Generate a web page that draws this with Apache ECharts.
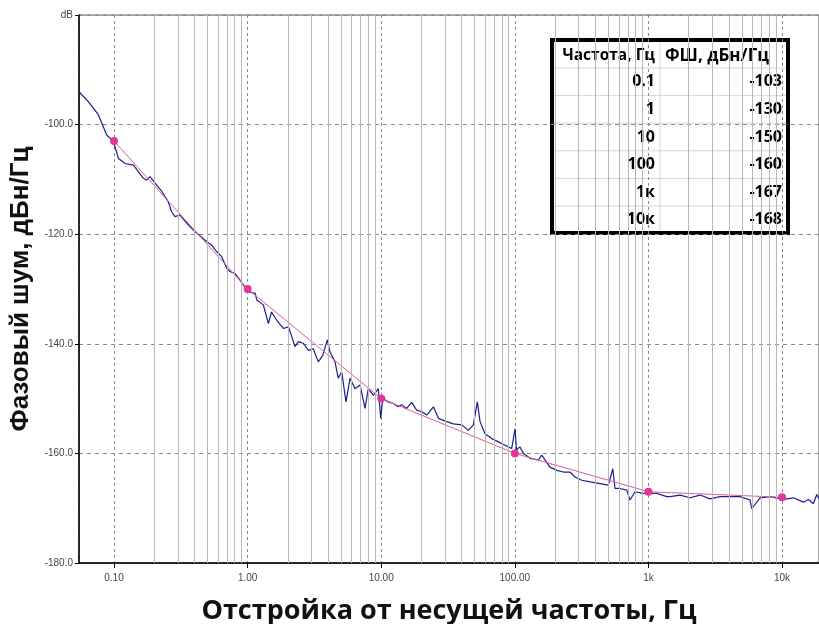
<!DOCTYPE html>
<html>
<head>
<meta charset="utf-8">
<script src="https://cdn.jsdelivr.net/npm/echarts@6/dist/echarts.min.js"></script>
<style>
  html, body { margin: 0; padding: 0; background: #fff; }
  #chart { width: 819px; height: 624px; }
</style>
</head>
<body>
<div id="chart"></div>
<script>
// измеренный спектр фазового шума (частота, Гц / уровень, дБн/Гц)
var traceFreq = [
  0.0547, 0.0642, 0.0763, 0.0882, 0.0961, 0.100, 0.108, 0.121, 0.140, 0.152,
  0.166, 0.176, 0.186, 0.203, 0.228, 0.255, 0.270, 0.286, 0.312, 0.350,
  0.404, 0.480, 0.539, 0.587, 0.640, 0.698, 0.738, 0.805, 0.877, 1.01,
  1.14, 1.17, 1.31, 1.43, 1.51, 1.65, 1.85, 2.02, 2.14, 2.26,
  2.40, 2.61, 2.85, 3.10, 3.38, 3.65, 3.95, 4.14, 4.51, 4.77,
  5.06, 5.45, 5.84, 6.37, 6.94, 7.56, 8.00, 8.73, 9.51, 9.91,
  10.26, 11.3, 12.3, 13.4, 14.2, 15.5, 16.9, 18.4, 20.1, 21.9,
  24.6, 26.8, 30.9, 34.7, 40.1, 44.9, 48.9, 52.4, 54.9, 59.8,
  67.1, 75.3, 84.5, 94.8, 100.3, 103, 109, 116, 130, 150,
  159, 183, 206, 231, 259, 282, 317, 366, 434, 501,
  541, 562, 613, 688, 728, 794, 916, 998, 1153, 1371,
  1452, 1725, 2048, 2433, 2891, 3436, 4083, 4852, 5754, 5929,
  6841, 8128, 10230, 12160, 14420, 15740, 17140, 18200, 18900
];
var traceLevel = [
  -94.0, -95.8, -98.2, -101.9, -102.8, -103.4, -106.2, -107.1, -107.4, -108.6,
  -109.8, -110.1, -109.5, -110.7, -112.2, -114.1, -115.9, -116.8, -116.5, -118.0,
  -119.5, -121.1, -122.0, -123.2, -124.1, -126.2, -126.8, -127.2, -128.4, -130.5,
  -130.8, -132.0, -132.9, -136.3, -134.2, -135.7, -137.2, -136.9, -138.7, -140.5,
  -139.6, -139.9, -141.2, -140.9, -143.3, -142.1, -139.3, -141.5, -143.3, -146.3,
  -145.1, -150.6, -146.3, -148.2, -147.5, -151.8, -148.2, -149.4, -148.2, -153.6,
  -150.0, -150.6, -150.9, -151.5, -151.1, -151.8, -150.7, -152.1, -152.4, -153.0,
  -151.5, -153.6, -154.2, -154.6, -154.8, -155.8, -154.8, -150.6, -154.2, -156.4,
  -157.3, -157.9, -158.5, -159.1, -155.5, -159.4, -158.8, -160.0, -160.9, -161.2,
  -160.3, -162.5, -163.1, -163.4, -163.4, -164.3, -164.9, -165.2, -165.5, -165.8,
  -162.8, -166.4, -166.4, -166.7, -168.5, -167.0, -167.3, -167.3, -167.3, -167.9,
  -167.9, -167.6, -168.1, -167.6, -168.3, -167.9, -167.9, -167.9, -168.5, -170.1,
  -168.1, -167.9, -168.4, -168.1, -168.9, -168.4, -169.2, -167.5, -168.3
];

// таблица опорных точек
var refFreq = [0.1, 1, 10, 100, 1000, 10000];
var refFreqLabels = ['0.1', '1', '10', '100', '1к', '10к'];
var refLevel = [-103, -130, -150, -160, -167, -168];

// вспомогательная сетка логарифмической оси
var minorGrid = [0.2, 0.3, 0.4, 0.5, 0.6, 0.7, 0.8, 0.9,
  2, 3, 4, 5, 6, 7, 8, 9, 20, 30, 40, 50, 60, 70, 80, 90,
  200, 300, 400, 500, 600, 700, 800, 900,
  2000, 3000, 4000, 5000, 6000, 7000, 8000, 9000];

var tableHeader = ['Частота, Гц', 'ФШ, дБн/Гц'];

var myChart = echarts.init(document.getElementById('chart'));

var trace = traceFreq.map(function (f, i) { return [f, traceLevel[i]]; });
var refLine = refFreq.map(function (f, i) { return [f, refLevel[i]]; });

// таблица справа вверху
var tX = 552, tY = 40, tW = 236, tH = 193, colX = 660, rowH = 27.6, headH = 28;
var tFont = 'bold 16px "Open Sans", sans-serif';
var tableEls = [];
tableEls.push({ type: 'rect', shape: { x: tX, y: tY, width: tW, height: tH },
  style: { fill: '#fff', stroke: null } });
for (var r = 0; r < refFreqLabels.length; r++) {
  var ly = tY + headH + r * rowH;
  tableEls.push({ type: 'line', shape: { x1: tX, y1: ly, x2: tX + tW, y2: ly },
    style: { stroke: '#d4d4d4', lineWidth: 1 } });
  var cy = ly + rowH / 2;
  tableEls.push({ type: 'text', style: { text: refFreqLabels[r], x: colX - 5, y: cy,
    align: 'right', verticalAlign: 'middle', fill: '#000', font: tFont } });
  tableEls.push({ type: 'text', style: { text: String(refLevel[r]), x: tX + tW - 6, y: cy,
    align: 'right', verticalAlign: 'middle', fill: '#000', font: tFont } });
}
tableEls.push({ type: 'line', shape: { x1: colX, y1: tY, x2: colX, y2: tY + tH },
  style: { stroke: '#d4d4d4', lineWidth: 1 } });
tableEls.push({ type: 'text', style: { text: tableHeader[0], x: colX - 5, y: tY + headH / 2 + 2,
  align: 'right', verticalAlign: 'middle', fill: '#000', font: 'bold 15.5px "Open Sans", sans-serif' } });
tableEls.push({ type: 'text', style: { text: tableHeader[1], x: colX + 5, y: tY + headH / 2 + 2,
  align: 'left', verticalAlign: 'middle', fill: '#000', font: 'bold 17px "Open Sans", sans-serif' } });
tableEls.push({ type: 'rect', shape: { x: tX, y: tY, width: tW, height: tH },
  style: { fill: null, stroke: '#000', lineWidth: 4 } });

var option = {
  animation: false,
  backgroundColor: '#fff',
  grid: { left: 79, right: 0, top: 15, bottom: 61, outerBoundsMode: 'none', containLabel: false,
    show: true, borderColor: '#555', borderWidth: 1 },
  xAxis: {
    type: 'log',
    logBase: 10,
    min: 0.0547,
    max: 18900,
    name: 'Отстройка от несущей частоты, Гц',
    nameLocation: 'middle',
    nameGap: 35,
    nameTextStyle: { fontFamily: 'Open Sans', fontWeight: 'bold', fontSize: 27, color: '#111' },
    axisLine: { lineStyle: { color: '#000', width: 1.5 } },
    axisTick: { show: true, length: 5, lineStyle: { color: '#000' } },
    axisLabel: {
      showMinLabel: false, showMaxLabel: false,
      margin: 10, fontSize: 10, fontFamily: 'Arial', color: '#444',
      formatter: function (v) {
        if (v >= 1000) return Math.round(v / 1000) + 'k';
        return v.toFixed(2);
      }
    },
    splitLine: { show: true, lineStyle: { color: '#8a8a8a', type: [3, 3], width: 1 } },
    minorTick: { show: false }
  },
  yAxis: {
    type: 'value',
    min: -180,
    max: -80,
    interval: 20,
    name: 'Фазовый шум, дБн/Гц',
    nameLocation: 'middle',
    nameGap: 35,
    nameRotate: 90,
    nameTextStyle: { fontFamily: 'Liberation Sans', fontWeight: 'bold', fontSize: 26, color: '#111' },
    axisLine: { show: true, lineStyle: { color: '#000', width: 1.5 } },
    axisTick: { show: true, length: 4, lineStyle: { color: '#000' } },
    axisLabel: {
      fontSize: 10, fontFamily: 'Arial', color: '#444', margin: 6,
      formatter: function (v) { return v === -80 ? 'dB' : v.toFixed(1); }
    },
    splitLine: { show: true, lineStyle: { color: '#8a8a8a', type: [4, 4], width: 1 } }
  },
  series: [
    {
      name: 'grid',
      type: 'line',
      data: [],
      silent: true,
      markLine: {
        silent: true,
        symbol: 'none',
        label: { show: false },
        lineStyle: { color: '#b8b8b8', type: 'solid', width: 1 },
        data: minorGrid.map(function (v) { return { xAxis: v }; })
      },
      z: 1
    },
    {
      name: 'Измерение',
      type: 'line',
      data: trace,
      showSymbol: false,
      lineStyle: { color: '#1e1e8c', width: 1.2 },
      z: 3
    },
    {
      name: 'Аппроксимация',
      type: 'line',
      data: refLine,
      symbol: 'circle',
      symbolSize: 8,
      itemStyle: { color: '#e2369c' },
      lineStyle: { color: '#e05a90', width: 1 },
      z: 4
    }
  ],
  graphic: [{ type: 'group', z: 100, children: tableEls }]
};

myChart.setOption(option);
</script>
</body>
</html>
